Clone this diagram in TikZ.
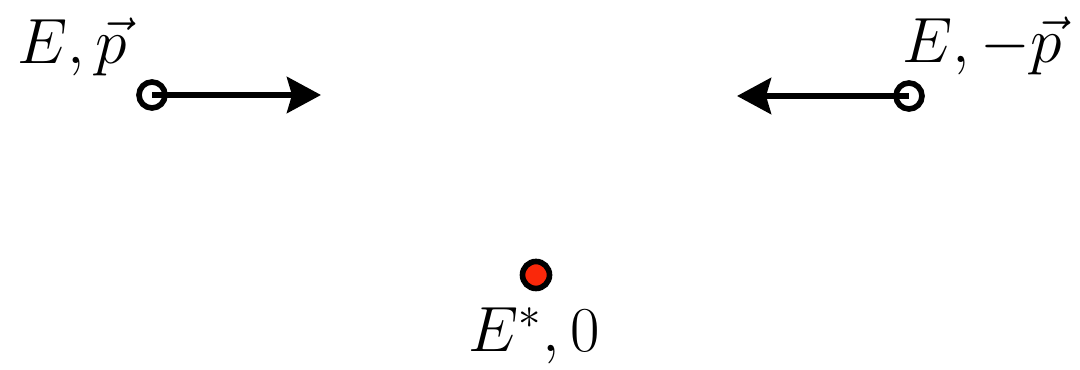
\RequirePackage{fix-cm}
\documentclass[tikz,border=0pt]{standalone}
\usetikzlibrary{arrows.meta}
\definecolor{dotred}{RGB}{250,40,10}
\tikzset{
  ring/.style={circle, draw=black, line width=1.6pt, fill=white, minimum size=0.26cm, inner sep=0pt},
  hotdot/.style={ring, fill=dotred, minimum size=0.27cm},
  momentum/.style={line width=1.7pt, -{Stealth[length=0.34cm, width=0.36cm, inset=0.05cm]}},
  lbl/.style={font=\fontsize{18.2}{22}\selectfont, inner sep=0pt}
}
\begin{document}
\begin{tikzpicture}
    \useasboundingbox (0,0) rectangle (10.8,3.7);

    % Particulas entrantes
    \node[ring] (pin) at (1.52,2.75) {};
    \node[ring] (pout) at (9.09,2.74) {};
    \coordinate (tipin) at (3.21,2.75);
    \coordinate (tipout) at (7.37,2.74);
    \draw[momentum] (pin.center) -- (tipin);
    \draw[momentum] (pout.center) -- (tipout);
    \node[lbl, anchor=base west] (lblin) at (0.17,3.06) {$E,\vec p$};
    \node[lbl, anchor=base west] (lblout) at (9.02,3.07) {$E,-\vec p$};

    % Estado final en reposo
    \node[hotdot] (rest) at (5.36,0.95) {};
    \node[lbl, anchor=base] (lblrest) at (5.34,0.18) {$E^*,0$};
\end{tikzpicture}
\end{document}
